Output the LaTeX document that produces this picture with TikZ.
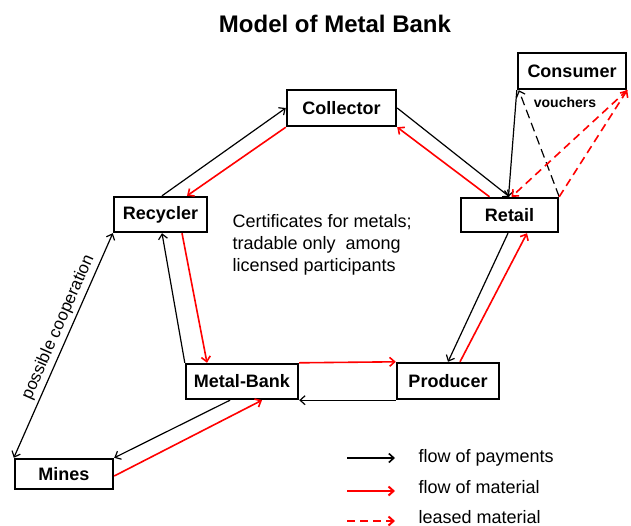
\documentclass[tikz,border=0pt]{standalone}
\usepackage{fontspec}
\setmainfont{Liberation Sans}
\usetikzlibrary{calc,arrows.meta}

\tikzset{
  box/.style={draw, line width=2.4pt, inner sep=0pt, font=\bfseries\fontsize{18}{20}\selectfont},
  pay/.style={draw=black, line width=1.2pt, -{Straight Barb[length=5pt,width=9pt]}},
  mat/.style={draw=red, line width=1.6pt, -{Straight Barb[length=5pt,width=9pt]}},
  leased/.style={mat, dash pattern=on 8pt off 5pt},
  paydash/.style={pay, dash pattern=on 9pt off 5pt},
  txt/.style={font=\fontsize{18}{22}\selectfont}
}

\begin{document}
\begin{tikzpicture}[x=1pt, y=-1pt]
	%%%%% FRAME %%%%%
	\useasboundingbox (0,0) rectangle (631,525);
	
	\node[font=\bfseries\fontsize{24}{28}\selectfont] (title) at (335,24) {Model of Metal Bank};
	
	%%%%% PARTICIPANTS %%%%%
	\node[box, minimum width=108pt, minimum height=36pt] (cons) at (572,71) {Consumer};
	\node[box, minimum width=109pt, minimum height=36pt] (coll) at (341.5,108) {Collector};
	\node[box, minimum width=97pt, minimum height=34pt] (retl) at (509.5,215) {Retail};
	\node[box, minimum width=93pt, minimum height=35pt] (recy) at (160.5,214.5) {Recycler};
	\node[box, minimum width=112pt, minimum height=35pt] (mbank) at (242,381.5) {Metal-Bank};
	\node[box, minimum width=102pt, minimum height=36pt] (prod) at (448,381) {Producer};
	\node[box, minimum width=98pt, minimum height=30pt] (mines) at (64,474) {Mines};
	
	\node[font=\bfseries\fontsize{14}{16}\selectfont] (vouch) at (565,102) {vouchers};
	\node[txt, anchor=west, align=left] (cert) at (229,245)
		{Certificates for metals;\\tradable only\ \ among\\licensed participants};
	
	%%%%% FLOWS %%%%%
	\draw[pay] ($(recy.north)+(1.5,0)$) -- (coll.west);
	\draw[mat] (coll.south west) -- ($(recy.north)+(26.5,0)$);
	\draw[pay] (coll.east) -- (retl.north);
	\draw[mat] ($(retl.north)+(-20,0)$) -- (coll.south east);
	
	\draw[pay] (cons.south west) -- ($(retl.north)+(-1,0)$);
	\draw[paydash] (retl.north east) -- ($(cons.south west)+(2,0)$);
	\draw[leased] (retl.north east) -- (cons.south east);
	\draw[leased] (cons.south east) -- ($(retl.north)+(2,0)$);
	
	\draw[pay] ($(retl.south)+(-1.5,0)$) -- (prod.north);
	\draw[mat] ($(prod.north)+(12,0)$) -- ($(retl.south)+(17.5,0)$);
	
	\draw[mat] (mbank.north east) -- (prod.north west);
	\draw[pay] (prod.south west) -- (mbank.south east);
	
	\draw[mat] ($(recy.south)+(21.5,0)$) -- ($(mbank.north)+(-35,0)$);
	\draw[pay] (mbank.north west) -- ($(recy.south)+(1.5,0)$);
	
	\draw[pay, {Straight Barb[length=5pt,width=9pt]}-{Straight Barb[length=5pt,width=9pt]}]
		(mines.north west) -- (recy.south west)
		node[pos=0.56, sloped, above, font=\fontsize{17}{20}\selectfont] (coop) {possible cooperation};
	
	\draw[pay] ($(mbank.south)+(-12,0)$) -- (mines.north east);
	\draw[mat] ($(mines.east)+(0,2)$) -- ($(mbank.south)+(20,0)$);
	
	%%%%% LEGEND %%%%%
	\coordinate (l1) at (347,458);
	\coordinate (l2) at (347,491);
	\coordinate (l3) at (347,521);
	\draw[pay, line width=1.6pt] (l1) -- ++(48,0);
	\draw[mat, line width=2pt] (l2) -- ++(48,0);
	\draw[leased, line width=2pt] (l3) -- ++(48,0);
	\node[txt, anchor=west] (t1) at (415,458) {flow of payments};
	\node[txt, anchor=west] (t2) at (415,487) {flow of material};
	\node[txt, anchor=west] (t3) at (415,517) {leased material};
\end{tikzpicture}
\end{document}
